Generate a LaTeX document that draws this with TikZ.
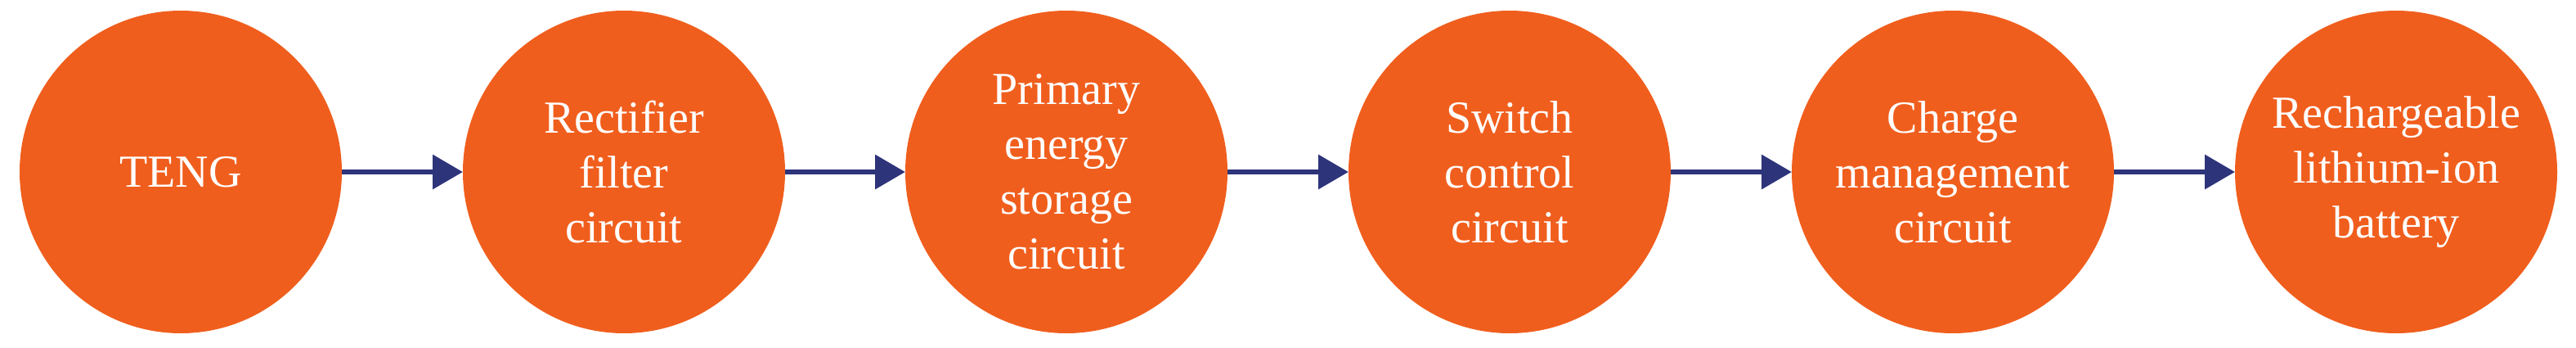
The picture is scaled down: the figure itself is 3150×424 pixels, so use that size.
\documentclass[tikz,border=0pt]{standalone}
\usepackage{fontspec}
\setmainfont{Liberation Serif}
\usetikzlibrary{arrows.meta}
\definecolor{blockorange}{RGB}{240,94,29}
\definecolor{arrownavy}{RGB}{46,52,122}
\tikzset{
  stage/.style={circle, fill=blockorange, draw=none, minimum size=197pt, inner sep=0pt, outer sep=0pt,
    text=white, align=center, font=\fontsize{28}{33.5}\selectfont},
  flow/.style={draw=arrownavy, line width=3.35pt, -{Triangle[length=18.5pt,width=20.5pt]}}
}
\begin{document}
\begin{tikzpicture}[x=0.5pt,y=-0.5pt]
\useasboundingbox (0,0) rectangle (3150,424);
\node[stage] (n1) at (221,210) {TENG};
\node[stage] (n2) at (763,210) {Rectifier\\filter\\circuit};
\node[stage] (n3) at (1304,210) {Primary\\energy\\storage\\circuit};
\node[stage] (n4) at (1846,210) {Switch\\control\\circuit};
\node[stage] (n5) at (2388,210) {Charge\\management\\circuit};
\node[stage] (n6) at (2930,210) {Rechargeable\\lithium-ion\\battery};
\draw[flow] (n1) -- (n2);
\draw[flow] (n2) -- (n3);
\draw[flow] (n3) -- (n4);
\draw[flow] (n4) -- (n5);
\draw[flow] (n5) -- (n6);
\end{tikzpicture}
\end{document}
